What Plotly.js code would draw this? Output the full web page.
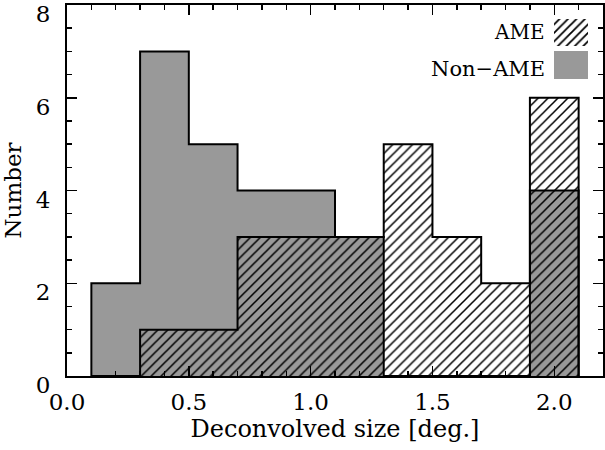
<!DOCTYPE html>
<html>
<head>
<meta charset="utf-8">
<script src="https://cdn.plot.ly/plotly-3.0.1.min.js"></script>
<style>html,body{margin:0;padding:0;background:#fff;}#chart{width:605px;height:450px;}</style>
</head>
<body>
<div id="chart"></div>
<script>
// Histogram bins (deconvolved size in degrees)
var binEdges = [0.1, 0.3, 0.5, 0.7, 0.9, 1.1, 1.3, 1.5, 1.7, 1.9, 2.1];
var nonAmeCounts = [2, 7, 5, 4, 4, 3, 0, 0, 0, 4];
var ameCounts = [0, 1, 1, 3, 3, 3, 5, 3, 2, 6];
var legendLabels = ["AME", "Non\u2212AME"];
var xTitle = "Deconvolved size [deg.]";
var yTitle = "Number";

var binCenters = [], binWidths = [];
for (var i = 0; i < binEdges.length - 1; i++) {
  binCenters.push((binEdges[i] + binEdges[i + 1]) / 2);
  binWidths.push(binEdges[i + 1] - binEdges[i]);
}
function stepOutline(counts) {
  var xs = [binEdges[0]], ys = [0];
  for (var i = 0; i < counts.length; i++) { xs.push(binEdges[i]); ys.push(counts[i]); }
  xs.push(binEdges[binEdges.length - 1]); ys.push(counts[counts.length - 1]);
  xs.push(binEdges[binEdges.length - 1]); ys.push(0);
  return {x: xs, y: ys};
}
var FONT = "DejaVu Serif";
var GRAY = "#999999";
var nonOut = stepOutline(nonAmeCounts);
var ameOut = stepOutline(ameCounts);

var traces = [
  {type: "bar", x: binCenters, y: nonAmeCounts, width: binWidths, name: legendLabels[1],
   marker: {color: GRAY, line: {width: 0}}, showlegend: false, hoverinfo: "skip"},
  {type: "bar", x: binCenters, y: ameCounts, width: binWidths, name: legendLabels[0],
   marker: {color: "black", line: {width: 0},
            pattern: {shape: "/", size: 7, solidity: 0.22, fgcolor: "black", bgcolor: "rgba(0,0,0,0)", fillmode: "replace"}},
   showlegend: false, hoverinfo: "skip"},
  {type: "scatter", mode: "lines", x: nonOut.x, y: nonOut.y, line: {shape: "hv", color: "black", width: 2},
   showlegend: false, hoverinfo: "skip"},
  {type: "scatter", mode: "lines", x: ameOut.x, y: ameOut.y, line: {shape: "hv", color: "black", width: 2},
   showlegend: false, hoverinfo: "skip"},
  // legend swatches on a hidden helper axis
  {type: "bar", orientation: "h", x: [1], y: [1.5], width: 0.8, xaxis: "x2", yaxis: "y2",
   marker: {color: "black", line: {width: 0},
            pattern: {shape: "/", size: 6, solidity: 0.3, fgcolor: "black", bgcolor: "white", fillmode: "replace"}},
   showlegend: false, hoverinfo: "skip"},
  {type: "bar", orientation: "h", x: [1], y: [0.5], width: 0.85, xaxis: "x2", yaxis: "y2",
   marker: {color: GRAY, line: {width: 0}}, showlegend: false, hoverinfo: "skip"}
];

var layout = {
  width: 605, height: 450,
  margin: {l: 67, r: 2, t: 5, b: 74},
  paper_bgcolor: "white", plot_bgcolor: "white",
  font: {family: FONT, color: "black", size: 23},
  barmode: "overlay", bargap: 0,
  showlegend: false,
  xaxis: {
    range: [0, 2.2], dtick: 0.5, tick0: 0, tickformat: ".1f",
    ticks: "inside", ticklen: 10, tickwidth: 1.5, tickcolor: "black",
    minor: {dtick: 0.1, ticks: "inside", ticklen: 5, tickwidth: 1.5, tickcolor: "black"},
    showline: true, linewidth: 2, linecolor: "black", mirror: "ticks",
    showgrid: false, zeroline: false, ticklabelstandoff: 4,
    tickfont: {family: FONT, size: 23},
    title: {text: xTitle, font: {family: FONT, size: 24}, standoff: 4}
  },
  yaxis: {
    range: [0, 8], dtick: 2, tick0: 0,
    ticks: "inside", ticklen: 10, tickwidth: 1.5, tickcolor: "black",
    minor: {dtick: 0.5, ticks: "inside", ticklen: 5, tickwidth: 1.5, tickcolor: "black"},
    showline: true, linewidth: 2, linecolor: "black", mirror: "ticks",
    showgrid: false, zeroline: false, ticklabelstandoff: 10,
    ticklabelshift: 9, ticklabeloverflow: "allow",
    tickfont: {family: FONT, size: 23},
    title: {text: yTitle, font: {family: FONT, size: 23}, standoff: 8}
  },
  xaxis2: {domain: [0.9086, 0.972], range: [0, 1], visible: false, fixedrange: true, anchor: "y2"},
  yaxis2: {domain: [0.793, 0.9704], range: [0, 2], visible: false, fixedrange: true, anchor: "x2"},
  annotations: [
    {xref: "paper", yref: "paper", x: 0.8955, y: 0.927, xanchor: "right", yanchor: "middle",
     text: legendLabels[0], showarrow: false, font: {family: FONT, size: 20, color: "black"}},
    {xref: "paper", yref: "paper", x: 0.8955, y: 0.8285, xanchor: "right", yanchor: "middle",
     text: legendLabels[1], showarrow: false, font: {family: FONT, size: 21, color: "black"}}
  ]
};

Plotly.newPlot("chart", traces, layout, {staticPlot: true, displayModeBar: false});
</script>
</body>
</html>
